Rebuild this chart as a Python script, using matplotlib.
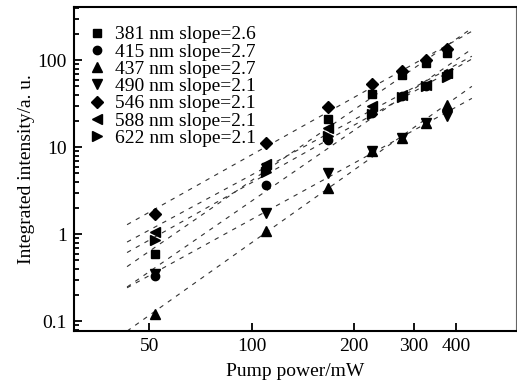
import numpy as np
import matplotlib
matplotlib.use("Agg")
import matplotlib.pyplot as plt
from matplotlib.ticker import FixedLocator, NullLocator, LogLocator, NullFormatter

plt.rcParams['font.family'] = ['Liberation Serif', 'DejaVu Serif']

# pump power (mW)
power = [52, 110, 168, 226, 277, 326, 376]

# integrated intensity (a. u.) for each emission line
i381 = [0.59, 6.0, 21, 41, 68, 92, 122]
i415 = [0.33, 3.7, 12, 25, 39, 51, 70]
i437 = [0.122, 1.1, 3.4, 9.1, 12.9, 19, 31]
i490 = [0.35, 1.75, 5.1, 9.1, 12.9, 19, 23]
i546 = [1.7, 11.3, 29, 54, 75, 100, 135]
i588 = [1.05, 6.5, 16.8, 30, 40, 52, 71]
i622 = [0.85, 5.2, 13.5, 24, 38, 50, 65]

labels = ['381 nm slope=2.6', '415 nm slope=2.7', '437 nm slope=2.7',
          '490 nm slope=2.1', '546 nm slope=2.1', '588 nm slope=2.1',
          '622 nm slope=2.1']
series = [i381, i415, i437, i490, i546, i588, i622]
markers = ['s', 'o', '^', 'v', 'D', '<', '>']
msizes = [6, 6, 7.5, 7.5, 6, 7.5, 7.5]

xticks = [50, 100, 200, 300, 400]

fig = plt.figure(figsize=(5.17, 3.90), dpi=100)
ax = fig.add_axes([0.143, 0.151, 0.855, 0.831])

xfit = np.array([43, 445])
for y, m, ms, lab in zip(series, markers, msizes, labels):
    k, b = np.polyfit(np.log10(power), np.log10(y), 1)
    ax.plot(xfit, 10 ** (b + k * np.log10(xfit)), ls=(0, (4, 5)), lw=0.8,
            color='#333333', zorder=1)
    ax.plot(power, y, ls='none', marker=m, ms=ms, color='black',
            label=lab, zorder=2)

ax.set_xscale('log')
ax.set_yscale('log')
ax.set_xlim(30, 600)
ax.set_ylim(0.077, 410)

ax.xaxis.set_major_locator(FixedLocator(xticks))
ax.xaxis.set_minor_locator(NullLocator())
ax.set_xticklabels([str(t) for t in xticks])
ax.yaxis.set_major_locator(FixedLocator([0.1, 1, 10, 100]))
ax.set_yticklabels(['0.1', '1', '10', '100'])
ax.yaxis.set_minor_locator(LogLocator(base=10, subs=np.arange(2, 10)))
ax.yaxis.set_minor_formatter(NullFormatter())

ax.tick_params(which='both', direction='in', top=False, right=False,
               labelsize=14, width=1.3)
ax.tick_params(which='major', length=6, pad=5)
ax.tick_params(which='minor', length=3.5)

for s in ['left', 'bottom', 'top']:
    ax.spines[s].set_linewidth(1.5)
ax.spines['right'].set_linewidth(0.8)
ax.spines['right'].set_color('#666666')

ax.set_xlabel('Pump power/mW', fontsize=14, labelpad=6)
ax.set_ylabel('Integrated intensity/a. u.', fontsize=14, labelpad=2)

ax.legend(loc='upper left', bbox_to_anchor=(0.0, 0.99), frameon=False,
          fontsize=14, handlelength=0.8, handletextpad=0.5,
          labelspacing=-0.02, borderaxespad=0.5, borderpad=0.3)

fig.savefig('out.png', dpi=100)
